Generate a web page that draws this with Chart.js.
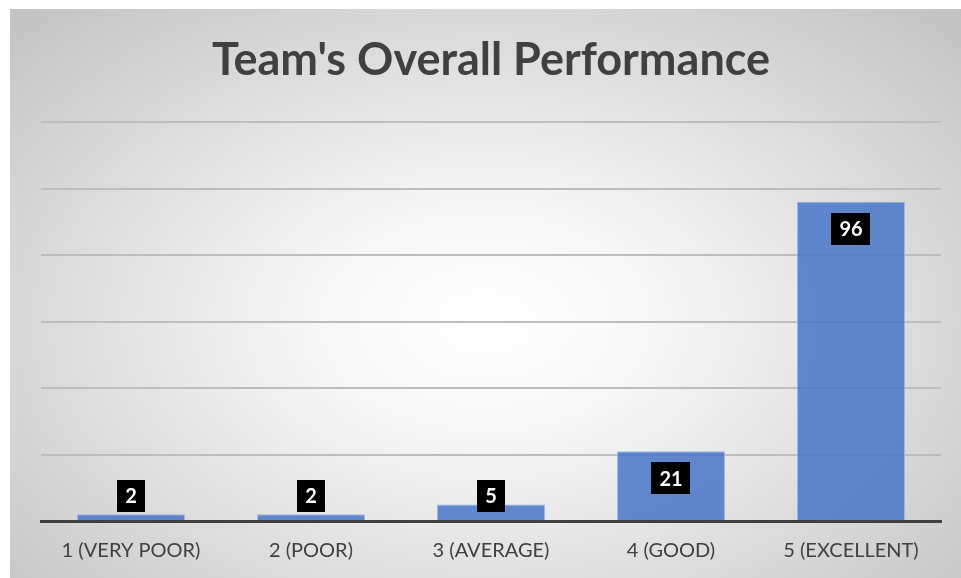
<!DOCTYPE html>
<html>
<head>
<meta charset="utf-8">
<script src="https://cdn.jsdelivr.net/npm/chart.js@4"></script>
<style>
  html,body{margin:0;padding:0;background:#fff;overflow:hidden;}
  #painel{
    position:absolute;left:10px;top:9px;width:951px;height:569px;
    background:radial-gradient(ellipse farthest-corner at 50% 55%, #ffffff 0%, #f7f7f7 25%, #c2c2c2 100%);
  }
  #wrap{position:absolute;left:0;top:0;width:961px;height:581px;}
</style>
</head>
<body>
<div id="painel"></div>
<div id="wrap"><canvas id="grafico"></canvas></div>
<script>
const categorias = ["1 (VERY POOR)", "2 (POOR)", "3 (AVERAGE)", "4 (GOOD)", "5 (EXCELLENT)"];
const respostas = [2, 2, 5, 21, 96];
const eixoY = { min: 0, max: 120, passo: 20 };

const FONTE = "Lato, 'Open Sans', sans-serif";

/* =========================
   ROTULOS (caixa preta)
========================= */
const rotulos = {
  id: "rotulos",
  afterDatasetsDraw(chart){
    const ctx = chart.ctx;
    const meta = chart.getDatasetMeta(0);
    const base = chart.scales.y.getPixelForValue(0);
    ctx.save();
    ctx.font = "bold 20px " + FONTE;
    ctx.textAlign = "center";
    ctx.textBaseline = "middle";
    meta.data.forEach((bar, i) => {
      const txt = String(respostas[i]);
      const w = ctx.measureText(txt).width + 16;
      const h = 32;
      let top = bar.y + 11;
      if(top + h > base - 9) top = base - 9 - h;
      ctx.fillStyle = "#000";
      ctx.fillRect(Math.round(bar.x - w/2), Math.round(top), Math.round(w), h);
      ctx.fillStyle = "#fff";
      ctx.fillText(txt, bar.x, top + h/2 + 1);
    });
    ctx.restore();
  }
};

new Chart(document.getElementById("grafico"), {
  type: "bar",
  data: {
    labels: categorias,
    datasets: [{
      data: respostas,
      backgroundColor: "rgba(72,118,200,0.85)",
      borderColor: "rgba(150,178,226,0.9)",
      borderWidth: 1,
      barPercentage: 0.6,
      categoryPercentage: 1
    }]
  },
  options: {
    responsive: true,
    maintainAspectRatio: false,
    animation: false,
    layout: { padding: { left: 41, right: 20, top: 0, bottom: 0 } },
    plugins: {
      legend: { display: false },
      tooltip: { enabled: false },
      title: {
        display: true,
        text: "Team's Overall Performance",
        color: "#404040",
        font: { family: FONTE, size: 45, weight: "bold" },
        padding: { top: 33, bottom: 35 }
      }
    },
    scales: {
      x: {
        grid: { display: false, drawTicks: false },
        border: { display: true, color: "#404040", width: 3 },
        ticks: { color: "#404040", font: { family: FONTE, size: 20 }, padding: 18 }
      },
      y: {
        min: eixoY.min,
        max: eixoY.max,
        grid: { color: "#bdbdbd", lineWidth: 2, drawTicks: false },
        border: { display: false },
        ticks: { display: false, stepSize: eixoY.passo }
      }
    }
  },
  plugins: [rotulos]
});
</script>
</body>
</html>
